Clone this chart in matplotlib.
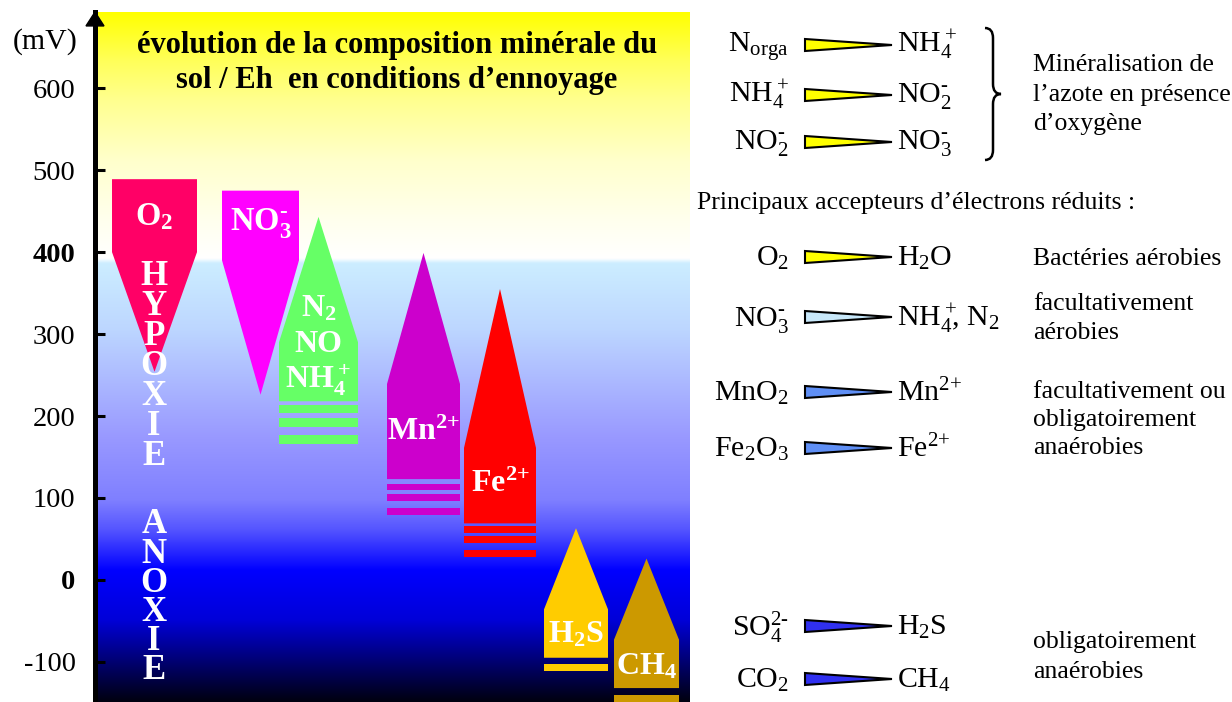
import numpy as np
import matplotlib
matplotlib.use('Agg')
import matplotlib.pyplot as plt
from matplotlib.path import Path
from matplotlib.patches import PathPatch, Polygon

plt.rcParams['font.family'] = ['Liberation Serif', 'DejaVu Serif']
plt.rcParams['mathtext.default'] = 'regular'

yticks = [600, 500, 400, 300, 200, 100, 0, -100]
bold_ticks = [400, 0]

# accepteurs (bloc en haut, pointe vers le bas) : O2, NO3-
down_labels = ['O$_2$', 'NO$_3^{‐}$']
down_top = [489, 475]
down_shoulder = [400, 390]
down_tip = [254, 226]
down_colors = ['#ff0066', '#ff00ff']

# formes réduites (pointe vers le haut) : N2/NO/NH4+, Mn2+, Fe2+, H2S, CH4
up_labels = [['N$_2$', 'NO', 'NH$_4^+$'], ['Mn$^{2{+}}$'], ['Fe$^{2{+}}$'], ['H$_2$S'], ['CH$_4$']]
up_peak = [443, 399, 355, 63, 26]
up_shoulder = [290, 239, 161, -36, -73]
up_base = [218, 123, 69, -95, -132]
up_stripes = [[(213, 204), (198, 187), (177, 166)],
              [(117, 110), (105, 96), (88, 79)],
              [(66, 57), (54, 45), (37, 28)],
              [(-103, -111)],
              [(-140, -152)]]
up_colors = ['#66ff66', '#cc00cc', '#ff0000', '#ffcc00', '#cc9900']

zone_words = ['HYPOXIE', 'ANOXIE']

# partie droite
nitro_from = ['N$_{orga}$', 'NH$_4^+$', 'NO$_2^{‐}$']
nitro_to = ['NH$_4^+$', 'NO$_2^{‐}$', 'NO$_3^{‐}$']
nitro_note = ['Minéralisation de', 'l’azote en présence', 'd’oxygène']
acc_from = ['O$_2$', 'NO$_3^{‐}$', 'MnO$_2$', 'Fe$_2$O$_3$', 'SO$_4^{2‐}$', 'CO$_2$']
acc_to = ['H$_2$O', r'NH$_4^+\!\!$, N$_2$', 'Mn$^{2{+}}$', 'Fe$^{2{+}}$', 'H$_2$S', 'CH$_4$']
acc_colors = ['#ffff00', '#c8e8fa', '#5f8ff5', '#5f8ff5', '#3030f0', '#3030f0']
bact_groups = [['Bactéries aérobies'],
               ['facultativement', 'aérobies'],
               ['facultativement ou', 'obligatoirement', 'anaérobies'],
               ['obligatoirement', 'anaérobies']]

# --- mise en page (pixels) ---
W, H = 1232, 702
down_x = [154.5, 260.5]
down_w = [85, 77]
up_x = [318.5, 423.5, 500, 576, 646.5]
up_w = [79, 73, 72, 64, 65]
down_label_y = [433, 427]
up_label_y = [[321, 278, 234], [171], [107], [-77], [-116]]
word_last_base = [140, -121]
word_spacing = [0.88, 0.845]

fig = plt.figure(figsize=(W / 100, H / 100), dpi=100)
ax = fig.add_axes([95 / W, 0, 595 / W, 690 / H])
ax.set_xlim(95, 690)
ax.set_ylim(-149, 693)

# fond dégradé jaune -> blanc / bleu clair -> bleu -> noir
stops = [(0.0, (1, 1, 0)), (0.07, (1, 1, 0.35)), (0.13, (1, 1, 0.57)),
         (0.215, (1, 1, 0.8)), (0.30, (1, 1, 0.93)), (0.357, (1, 1, 1)),
         (0.364, (0.8, 0.93, 1)), (0.46, (0.74, 0.84, 1)), (0.616, (0.6, 0.6, 1)),
         (0.707, (0.5, 0.5, 1)), (0.751, (0.33, 0.33, 1)), (0.801, (0.05, 0.05, 1)),
         (0.809, (0, 0, 1)), (0.881, (0, 0, 0.85)), (1.0, (0, 0, 0.06))]
f = np.linspace(0, 1, 700)
pos = [s[0] for s in stops]
grad = np.stack([np.interp(f, pos, [s[1][k] for s in stops]) for k in range(3)], axis=-1)
ax.imshow(grad[:, None, :], extent=(95, 690, -149, 693), aspect='auto', origin='upper', zorder=0)

for i in range(len(down_labels)):
    cx, hw = down_x[i], down_w[i] / 2
    ax.fill([cx - hw, cx + hw, cx + hw, cx, cx - hw],
            [down_top[i], down_top[i], down_shoulder[i], down_tip[i], down_shoulder[i]],
            color=down_colors[i], lw=0, zorder=2)
    ax.text(cx, down_label_y[i], down_labels[i], color='white', fontsize=23.5,
            fontweight='bold', ha='center', va='baseline', zorder=4)

for i in range(len(up_peak)):
    cx, hw = up_x[i], up_w[i] / 2
    ax.fill([cx, cx + hw, cx + hw, cx - hw, cx - hw],
            [up_peak[i], up_shoulder[i], up_base[i], up_base[i], up_shoulder[i]],
            color=up_colors[i], lw=0, zorder=2)
    for top, bot in up_stripes[i]:
        ax.bar(cx, top - bot, bottom=bot, width=up_w[i], color=up_colors[i], lw=0, zorder=2)
    for lab, ly in zip(up_labels[i], up_label_y[i]):
        ax.text(cx, ly, lab, color='white', fontsize=23, fontweight='bold',
                ha='center', va='baseline', zorder=4)

# HYPOXIE / ANOXIE écrits verticalement (va=baseline -> dernière ligne)
for word, yb, ls in zip(zone_words, word_last_base, word_spacing):
    ax.text(154, yb, '\n'.join(word), color='white', fontsize=25, fontweight='bold',
            ha='center', va='baseline', multialignment='center', linespacing=ls, zorder=5)

# axe Eh
for s in ['top', 'right', 'bottom']:
    ax.spines[s].set_visible(False)
ax.spines['left'].set_linewidth(3.6)
ax.set_xticks([])
ax.set_yticks(yticks)
ax.set_yticklabels([str(v) for v in yticks])
ax.tick_params(axis='y', direction='in', length=7.5, width=2.2, pad=14, labelsize=20.5)
for v, lab in zip(yticks, ax.get_yticklabels()):
    if v in bold_ticks:
        lab.set_fontweight('bold')
ax.add_patch(Polygon([(86, 676), (104, 676), (95, 693)], closed=True, color='k',
                     clip_on=False, zorder=6))

fig.text(45 / W, 1 - 42 / H, '(mV)', ha='center', va='center', fontsize=21.5)
fig.text(397 / W, 1 - 53 / H, 'évolution de la composition minérale du',
         ha='center', va='baseline', fontsize=22, fontweight='bold')
fig.text(397 / W, 1 - 88 / H, 'sol / Eh  en conditions d’ennoyage',
         ha='center', va='baseline', fontsize=22, fontweight='bold')

# partie droite : réactions
axr = fig.add_axes([0, 0, 1, 1])
axr.set_xlim(0, W)
axr.set_ylim(H, 0)
axr.axis('off')
axr.patch.set_alpha(0)


def wedge(y, col):
    axr.add_patch(Polygon([(805, y - 6), (805, y + 6), (892, y)], closed=True,
                          facecolor=col, edgecolor='k', lw=1.5))


nitro_base = [52, 102, 149]
for a, b, yb in zip(nitro_from, nitro_to, nitro_base):
    axr.text(789, yb, a, ha='right', va='baseline', fontsize=21.5)
    axr.text(897, yb, b, ha='left', va='baseline', fontsize=21.5)
    wedge(yb - 7, '#ffff00')
for t, yb in zip(nitro_note, [71, 101, 130]):
    axr.text(1033, yb, t, ha='left', va='baseline', fontsize=18.5)

bx, by = 985, 28
brace = Path([(bx, by), (bx + 8, by), (bx + 8, by + 10), (bx + 8, by + 56),
              (bx + 8, by + 66), (bx + 16, by + 66), (bx + 8, by + 66), (bx + 8, by + 76),
              (bx + 8, by + 122), (bx + 8, by + 132), (bx, by + 132)],
             [Path.MOVETO, Path.CURVE3, Path.CURVE3, Path.LINETO, Path.CURVE3, Path.CURVE3,
              Path.CURVE3, Path.CURVE3, Path.LINETO, Path.CURVE3, Path.CURVE3])
axr.add_patch(PathPatch(brace, fill=False, lw=1.8, edgecolor='k'))

axr.text(697, 209, 'Principaux accepteurs d’électrons réduits :', ha='left',
         va='baseline', fontsize=18.5)

acc_base = [266, 326, 401, 457, 635, 688]
for a, b, col, yb in zip(acc_from, acc_to, acc_colors, acc_base):
    axr.text(789, yb, a, ha='right', va='baseline', fontsize=21.5)
    axr.text(897, yb, b, ha='left', va='baseline', fontsize=21.5)
    wedge(yb - 9, col)

group_base = [[265], [310, 339], [398, 426, 454], [648, 678]]
for lines, ybs in zip(bact_groups, group_base):
    for t, yb in zip(lines, ybs):
        axr.text(1033, yb, t, ha='left', va='baseline', fontsize=18.5)

fig.savefig('out.png', dpi=100)
